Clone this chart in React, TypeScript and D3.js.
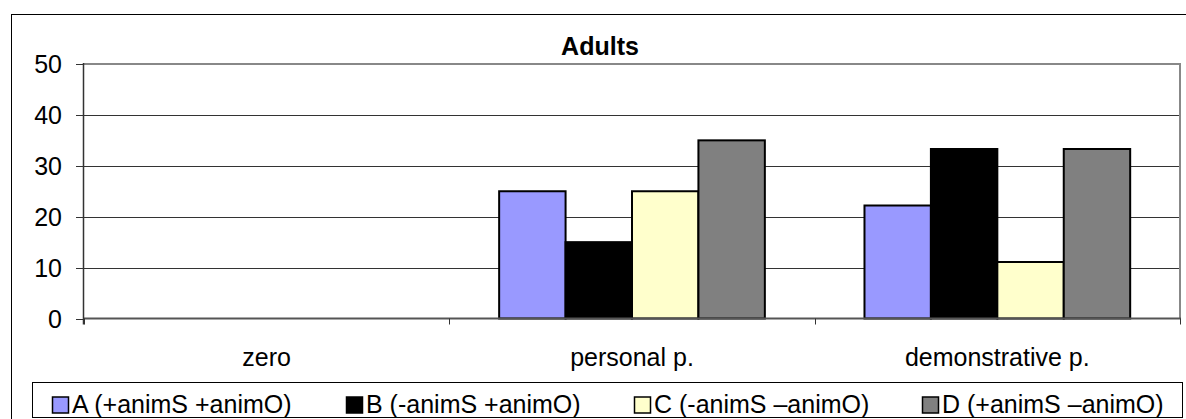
import React from "react";
import * as d3 from "d3";

const categories = ["zero", "personal p.", "demonstrative p."];
const seriesNames = ["A (+animS +animO)", "B (-animS +animO)", "C (-animS \u2013animO)", "D (+animS \u2013animO)"];
const seriesColors = ["#9999FF", "#000000", "#FFFFCC", "#808080"];
const valuesA = [0, 25, 22.2];
const valuesB = [0, 15, 33.3];
const valuesC = [0, 25, 11.1];
const valuesD = [0, 35, 33.3];
const yTicks = [0, 10, 20, 30, 40, 50];
const title = "Adults";

const W = 1186;
const H = 419;
const plot = { left: 84, right: 1180, top: 64, bottom: 318.5 };
const FONT = "Arial, 'Liberation Sans', sans-serif";
const FS = 25;

export default function App() {
  const series = [valuesA, valuesB, valuesC, valuesD];
  const x0 = d3.scaleBand<string>().domain(categories).range([plot.left, plot.right]).paddingInner(0).paddingOuter(0);
  const y = d3.scaleLinear().domain([0, 50]).range([plot.bottom, plot.top]);
  const bw = x0.bandwidth() / (4 + 1.5);
  const groupOffset = bw * 0.75;

  const legendXs = [52, 346, 634, 922];

  return (
    <svg width={W} height={H} style={{ position: "absolute", left: 0, top: 0 }} fontFamily={FONT}>
      <rect x={0} y={0} width={W} height={H} fill="#fff" />
      {/* outer chart border */}
      <rect x={11.5} y={14.5} width={W + 10} height={H + 10} fill="none" stroke="#000" strokeWidth={1} />
      {/* title */}
      <text x={600} y={55} textAnchor="middle" fontSize={FS} fontWeight="bold">{title}</text>
      {/* gridlines */}
      {yTicks.filter(t => t > 0 && t < 50).map(t => (
        <line key={t} x1={plot.left} x2={plot.right} y1={Math.round(y(t)) + 0.5} y2={Math.round(y(t)) + 0.5} stroke="#333" strokeWidth={1} />
      ))}
      {/* plot border top/right */}
      <line x1={plot.left} x2={plot.right + 1} y1={plot.top} y2={plot.top} stroke="#888" strokeWidth={2} />
      <line x1={plot.right} x2={plot.right} y1={plot.top} y2={plot.bottom} stroke="#888" strokeWidth={2} />
      {/* bars */}
      {categories.map((c, ci) =>
        series.map((vals, si) => {
          const v = vals[ci];
          if (v <= 0) return null;
          const bx = (x0(c) as number) + groupOffset + si * bw;
          return (
            <rect key={c + si} x={bx} y={y(v)} width={bw} height={y(0) - y(v)} fill={seriesColors[si]} stroke="#000" strokeWidth={2} />
          );
        })
      )}
      {/* x axis */}
      <line x1={plot.left} x2={plot.right + 1} y1={plot.bottom} y2={plot.bottom} stroke="#555" strokeWidth={2} />
      {categories.map((c, i) => (
        <line key={"xt" + i} x1={Math.round(x0(c) as number) + 0.5} x2={Math.round(x0(c) as number) + 0.5} y1={plot.bottom} y2={plot.bottom + 6} stroke="#333" />
      ))}
      <line x1={plot.right + 0.5} x2={plot.right + 0.5} y1={plot.bottom} y2={plot.bottom + 6} stroke="#333" />
      {categories.map(c => (
        <text key={"xl" + c} x={(x0(c) as number) + x0.bandwidth() / 2} y={366} textAnchor="middle" fontSize={FS}>{c}</text>
      ))}
      {/* y axis */}
      <line x1={plot.left - 0.5} x2={plot.left - 0.5} y1={plot.top - 1} y2={plot.bottom + 6} stroke="#333" strokeWidth={1.5} />
      {yTicks.map(t => (
        <g key={"yt" + t}>
          <line x1={plot.left - 8} x2={plot.left} y1={Math.round(y(t)) + 0.5} y2={Math.round(y(t)) + 0.5} stroke="#333" />
          <text x={62} y={y(t) + 9} textAnchor="end" fontSize={FS}>{t}</text>
        </g>
      ))}
      {/* legend */}
      <rect x={32.5} y={382.5} width={1150} height={35} fill="#fff" stroke="#000" strokeWidth={1} />
      {seriesNames.map((n, i) => (
        <g key={n}>
          <rect x={legendXs[i] + 0.5} y={397} width={16} height={16} fill={seriesColors[i]} stroke="#000" strokeWidth={1.5} />
          <text x={legendXs[i] + 20} y={413} fontSize={FS}>{n}</text>
        </g>
      ))}
    </svg>
  );
}
